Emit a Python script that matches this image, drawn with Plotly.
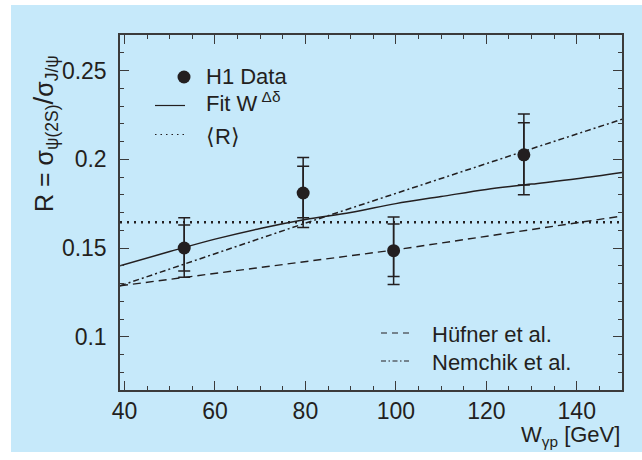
import plotly.graph_objects as go

# H1 measurement of R = sigma(psi(2S)) / sigma(J/psi) versus W_gamma_p
w_data = [53.2, 79.5, 99.5, 128.3]
r_data = [0.150, 0.181, 0.1485, 0.2025]
stat_up = [0.013, 0.015, 0.015, 0.018]
stat_dn = [0.013, 0.014, 0.0145, 0.017]
tot_up = [0.017, 0.020, 0.019, 0.023]
tot_dn = [0.0165, 0.0195, 0.019, 0.0225]

# Power-law fit W^(Delta delta)
w_fit = [39, 50, 60, 70, 80, 90, 100, 110, 120, 130, 140, 150]
r_fit = [0.140, 0.148, 0.155, 0.161, 0.166, 0.170, 0.175, 0.179, 0.183, 0.186, 0.189, 0.1925]

# Mean ratio <R>
w_mean = [39, 150]
r_mean = [0.1645, 0.1645]

# Model predictions
w_hufner = [39, 100, 150]
r_hufner = [0.1287, 0.149, 0.168]
w_nemchik = [39, 80, 128.3, 150]
r_nemchik = [0.1287, 0.164, 0.2045, 0.2225]

x_ticks = [40, 60, 80, 100, 120, 140]
y_ticks = [0.1, 0.15, 0.2, 0.25]
y_tick_text = ["0.1", "0.15", "0.2", "0.25"]

INK = "#231f20"
AXIS = "#3b3b3b"
BG = "#c6e9fa"
FONT = "Liberation Sans, Arial, sans-serif"

W, H = 642, 460
ML, MR, MT, MB = 120, 20, 35, 70
PW, PH = W - ML - MR, H - MT - MB


def px(x):
    return (x - ML) / PW


def py(y):
    return (H - MB - y) / PH


fig = go.Figure()

fig.add_trace(go.Scatter(x=w_hufner, y=r_hufner, mode="lines",
                         line=dict(color=INK, width=1.4, dash="8px,5px"),
                         showlegend=False, hoverinfo="skip"))
fig.add_trace(go.Scatter(x=w_nemchik, y=r_nemchik, mode="lines",
                         line=dict(color=INK, width=1.5, dash="6px,3px,2px,3px"),
                         showlegend=False, hoverinfo="skip"))
fig.add_trace(go.Scatter(x=w_mean, y=r_mean, mode="lines",
                         line=dict(color=INK, width=2.4, dash="2px,5px"),
                         showlegend=False, hoverinfo="skip"))
fig.add_trace(go.Scatter(x=w_fit, y=r_fit, mode="lines", line_shape="spline",
                         line=dict(color=INK, width=1.5),
                         showlegend=False, hoverinfo="skip"))

# total uncertainties (outer caps)
fig.add_trace(go.Scatter(x=w_data, y=r_data, mode="markers",
                         marker=dict(size=1, color="rgba(0,0,0,0)"),
                         error_y=dict(type="data", symmetric=False, array=tot_up,
                                      arrayminus=tot_dn, color=INK, thickness=1.5, width=6),
                         showlegend=False, hoverinfo="skip"))
# statistical uncertainties (inner caps) and data points
fig.add_trace(go.Scatter(x=w_data, y=r_data, mode="markers",
                         marker=dict(size=13, color=INK),
                         error_y=dict(type="data", symmetric=False, array=stat_up,
                                      arrayminus=stat_dn, color=INK, thickness=1.5, width=6),
                         showlegend=False))

shapes = [
    # light blue panel behind everything
    dict(type="rect", xref="paper", yref="paper", x0=px(11), x1=px(642), y0=py(452), y1=py(5),
         fillcolor=BG, line=dict(width=0), layer="below"),
    # legend samples
    dict(type="circle", xref="paper", yref="paper", xsizemode="pixel", ysizemode="pixel",
         xanchor=px(184), yanchor=py(77), x0=-6.5, x1=6.5, y0=-6.5, y1=6.5,
         fillcolor=INK, line=dict(width=0)),
    dict(type="line", xref="paper", yref="paper", x0=px(155), x1=px(185), y0=py(105.5), y1=py(105.5),
         line=dict(color=INK, width=1.2)),
    dict(type="line", xref="paper", yref="paper", x0=px(155), x1=px(185), y0=py(134.5), y1=py(134.5),
         line=dict(color=INK, width=1.2, dash="1.5px,4px")),
    dict(type="line", xref="paper", yref="paper", x0=px(381), x1=px(411), y0=py(333), y1=py(333),
         line=dict(color=INK, width=1.1, dash="6px,5px")),
    dict(type="line", xref="paper", yref="paper", x0=px(381), x1=px(411), y0=py(361), y1=py(361),
         line=dict(color=INK, width=1.1, dash="5px,2.5px,1.5px,2.5px")),
]

ann_font = dict(family=FONT, size=22, color=INK)
annotations = [
    dict(text="H1 Data", x=px(204), y=py(77), xanchor="left", yanchor="middle"),
    dict(text="Fit W<sup> Δδ</sup>", x=px(204), y=py(102), xanchor="left", yanchor="middle"),
    dict(text="⟨R⟩", x=px(204), y=py(136), xanchor="left", yanchor="middle"),
    dict(text="Hüfner et al.", x=px(430), y=py(334), xanchor="left", yanchor="middle"),
    dict(text="Nemchik et al.", x=px(430), y=py(362), xanchor="left", yanchor="middle"),
    dict(text="W<sub>γp</sub> [GeV]", x=px(622), y=py(436), xanchor="right", yanchor="middle"),
    dict(text="R = σ<sub>ψ(2S)</sub><span style='font-size:28px'>/</span>σ<sub>J/ψ</sub>",
         x=px(45), y=py(134), xanchor="center", yanchor="middle", textangle=-90,
         font=dict(family=FONT, size=25, color=INK)),
]
for a in annotations:
    a.setdefault("font", ann_font)
    a.update(xref="paper", yref="paper", showarrow=False)

axis_common = dict(
    showline=True, linecolor=AXIS, linewidth=1.5, mirror="ticks",
    ticks="inside", ticklen=9, tickwidth=1.4, tickcolor=AXIS,
    showgrid=False, zeroline=False,
    tickfont=dict(family=FONT, size=23, color=INK),
)

fig.update_xaxes(range=[39, 150], tickvals=x_ticks, ticklabelstandoff=0,
                 minor=dict(dtick=5, ticks="inside", ticklen=4.5, tickwidth=1.2, tickcolor=AXIS),
                 **axis_common)
fig.update_yaxes(range=[0.07, 0.27], tickvals=y_ticks, ticktext=y_tick_text, ticklabelstandoff=7,
                 minor=dict(dtick=0.01, tick0=0.1, ticks="inside", ticklen=4.5, tickwidth=1.2,
                            tickcolor=AXIS),
                 **axis_common)

fig.update_layout(
    width=W, height=H,
    margin=dict(l=ML, r=MR, t=MT, b=MB),
    paper_bgcolor="white", plot_bgcolor="rgba(0,0,0,0)",
    shapes=shapes, annotations=annotations,
    showlegend=False,
    font=dict(family=FONT, color=INK),
)

fig.write_html("out.html", config=dict(displayModeBar=False))
